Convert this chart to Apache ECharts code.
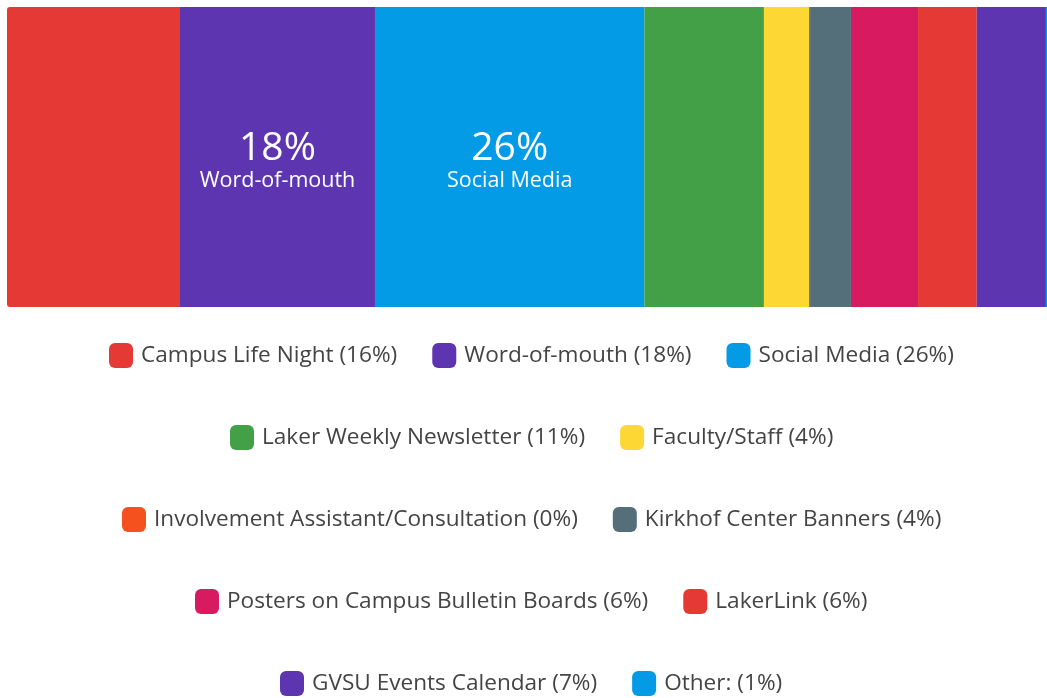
<!DOCTYPE html>
<html>
<head>
<meta charset="utf-8">
<script src="https://cdn.jsdelivr.net/npm/echarts@6/dist/echarts.min.js"></script>
<style>html,body{margin:0;padding:0;background:#fff;}#c{width:1047px;height:698px;}</style>
</head>
<body>
<div id="c"></div>
<script>
const categories = ["Campus Life Night","Word-of-mouth","Social Media","Laker Weekly Newsletter","Faculty/Staff","Involvement Assistant/Consultation","Kirkhof Center Banners","Posters on Campus Bulletin Boards","LakerLink","GVSU Events Calendar","Other:"];
const values = [16.5, 18.6, 25.7, 11.4, 4.3, 0.1, 3.9, 6.4, 5.6, 6.6, 1.0];
const pctLabels = [16, 18, 26, 11, 4, 0, 4, 6, 6, 7, 1];
const colors = ["#E53935","#5E35B1","#039BE5","#43A047","#FDD835","#F4511E","#546E7A","#D81B60","#E53935","#5E35B1","#039BE5"];
const labelled = ["Word-of-mouth","Social Media"];
const legendRows = [[0,1,2],[3,4],[5,6],[7,8],[9,10]];
const visibleMax = 99.2;

const font = "Open Sans";
const legendFontSize = 22.6;
const legendCenterX = 531.5;
const iconW = 24, textGap = 8, itemGap = 35;

const series = categories.map((name,i)=>({
  name: name,
  type: 'bar',
  stack: 'all',
  barWidth: 300,
  data: [values[i]],
  itemStyle: {color: colors[i], borderRadius: i===0 ? [3,0,0,3] : 0},
  emphasis: {disabled: true},
  label: {
    show: labelled.indexOf(name) >= 0,
    position: 'inside',
    offset: [0, 4],
    formatter: () => '{a|' + pctLabels[i] + '%}\n{b|' + name + '}',
    rich: {
      a: {fontSize: 39, color: '#fff', fontFamily: font, lineHeight: 40},
      b: {fontSize: 21.5, color: '#fff', fontFamily: font, lineHeight: 24}
    }
  }
}));

const legendText = (n) => n + ' (' + pctLabels[categories.indexOf(n)] + '%)';
const ctx = document.createElement('canvas').getContext('2d');
ctx.font = legendFontSize + 'px "' + font + '"';

const legends = legendRows.map((row,r)=>{
  const names = row.map(i=>categories[i]);
  let w = 0;
  names.forEach((n,k)=>{ w += iconW + textGap + ctx.measureText(legendText(n)).width + (k ? itemGap : 0); });
  return {
    data: names,
    left: Math.round(legendCenterX - w/2),
    top: 343 + r*82,
    padding: 0,
    itemWidth: iconW,
    itemHeight: 25,
    itemGap: itemGap,
    icon: 'roundRect',
    selectedMode: false,
    textStyle: {fontSize: legendFontSize, color: '#444', fontFamily: font, padding: [0,0,0,3]},
    formatter: legendText
  };
});

const chart = echarts.init(document.getElementById('c'));
chart.setOption({
  animation: false,
  grid: {left: 7, top: 7, height: 300, right: 0},
  xAxis: {type: 'value', min: 0, max: visibleMax, show: false},
  yAxis: {type: 'category', data: ['x'], show: false},
  legend: legends,
  series: series
});
</script>
</body>
</html>
